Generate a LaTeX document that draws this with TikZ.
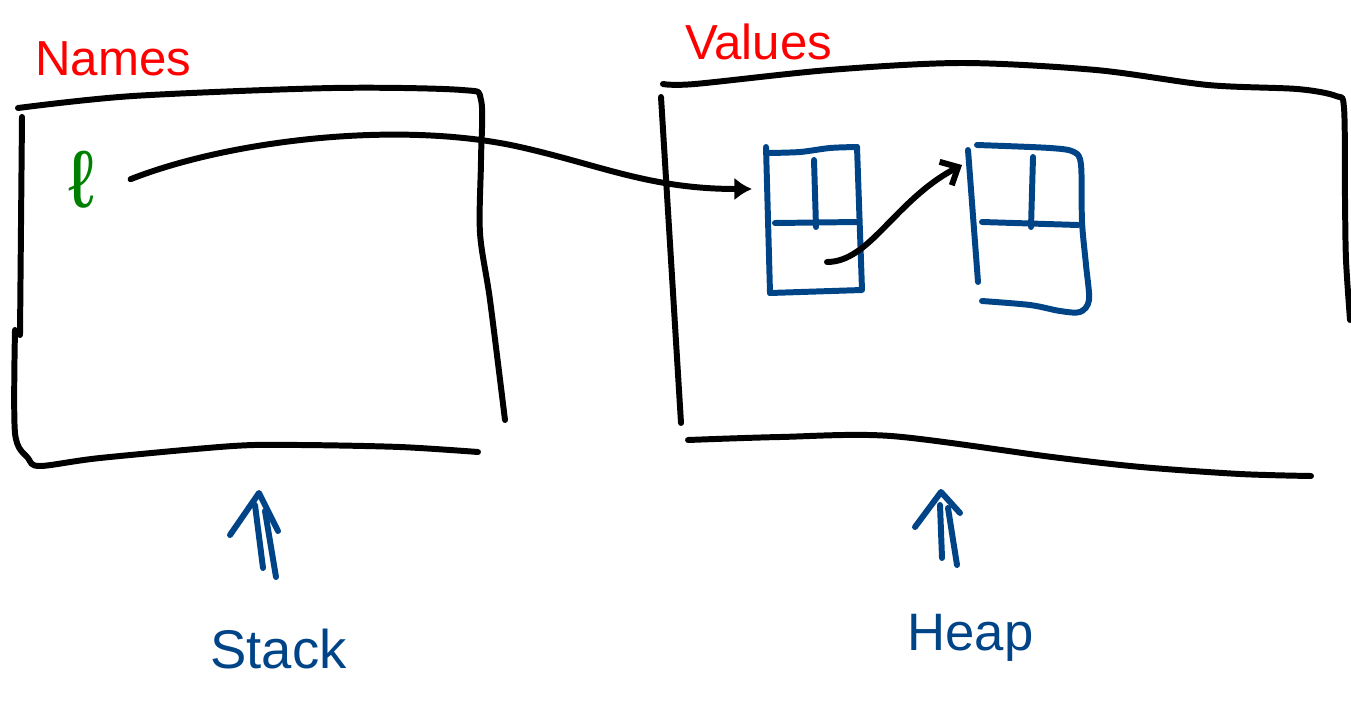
\documentclass[tikz,border=0pt]{standalone}
\usepackage{fontspec}
\setsansfont{Liberation Sans}
\usetikzlibrary{arrows.meta}
\definecolor{inkred}{RGB}{255,0,0}
\definecolor{inkgreen}{RGB}{0,128,0}
\definecolor{inkblue}{RGB}{0,68,136}

\begin{document}
\begin{tikzpicture}[x=0.02cm,y=-0.02cm,
  pen/.style={line width=3.4pt,line cap=round,line join=round},
  bluepen/.style={pen,inkblue},
  hand/.style={font=\sffamily\fontsize{28}{32}\selectfont,anchor=base west,inner sep=0pt},
  ptr/.style={pen,-{Latex[length=10pt,width=13pt]}},
  link/.style={pen,-{Straight Barb[length=8pt,width=15pt]}}]
\useasboundingbox (0,0) rectangle (1351,706);

\node[hand,inkred] (names) at (35,75) {Names};
\node[hand,inkred] (values) at (685,60) {Values};

\draw[pen] plot[smooth] coordinates {(18,108) (133,96) (333,88) (462,90) (481,100) (481,160) (480,233) (490,300) (505,420)};
\draw[pen] (22,117) -- (20,335);
\draw[pen] plot[smooth] coordinates {(15,330) (15,433) (28,458) (40,466) (100,458) (233,446) (300,445) (400,447) (478,452)};

\draw[pen] plot[smooth] coordinates {(663,84) (695,84) (829,70) (962,63) (1096,70) (1208,85) (1297,89) (1336,96) (1344,108) (1345,200) (1346,260) (1350,320)};
\draw[pen] (661,97) -- (681,423);
\draw[pen] plot[smooth] coordinates {(688,440) (780,437) (891,436) (1052,457) (1141,467) (1240,474) (1311,476)};

\draw[bluepen] (766,147) -- (770,293);
\draw[bluepen] plot[smooth] coordinates {(768,153) (800,152) (830,148) (857,147)};
\draw[bluepen] (857,147) -- (862,290) -- (770,293);
\draw[bluepen] (775,223) -- (858,222);
\draw[bluepen] (814,160) -- (816,227);

\draw[bluepen] (968,150) -- (978,282);
\draw[bluepen] plot[smooth] coordinates {(977,145) (1050,148) (1074,152) (1081,165) (1082,222) (1086,265) (1089,300) (1080,312) (1060,311) (1030,305) (982,301)};
\draw[bluepen] (982,222) -- (1078,225);
\draw[bluepen] (1033,157) -- (1031,227);

\node[inkgreen,font=\sffamily\fontsize{46}{50}\selectfont,anchor=base,inner xsep=20pt] (ell) at (82,207) {ℓ};
\coordinate (cellA) at (752,189);
\coordinate (nextptr) at (827,262);
\coordinate (cellB) at (962,165);
\draw[ptr] (ell.east) .. controls (230,140) and (400,120) .. (520,147) .. controls (600,165) and (650,189) .. (cellA);
\draw[link] (nextptr) .. controls (870,262) and (895,200) .. (cellB);

\draw[bluepen] (230,535) -- (259,493) -- (278,531);
\draw[bluepen] (255,505) -- (263,568);
\draw[bluepen] (265,511) -- (276,577);
\node[hand,inkblue,font=\sffamily\fontsize{31}{35}\selectfont] (stack) at (210,668) {Stack};

\draw[bluepen] (915,527) -- (941,492) -- (960,513);
\draw[bluepen] (940,505) -- (942,558);
\draw[bluepen] (948,508) -- (957,565);
\node[hand,inkblue,font=\sffamily\fontsize{30}{34}\selectfont] (heap) at (907,650) {Heap};
\end{tikzpicture}
\end{document}
